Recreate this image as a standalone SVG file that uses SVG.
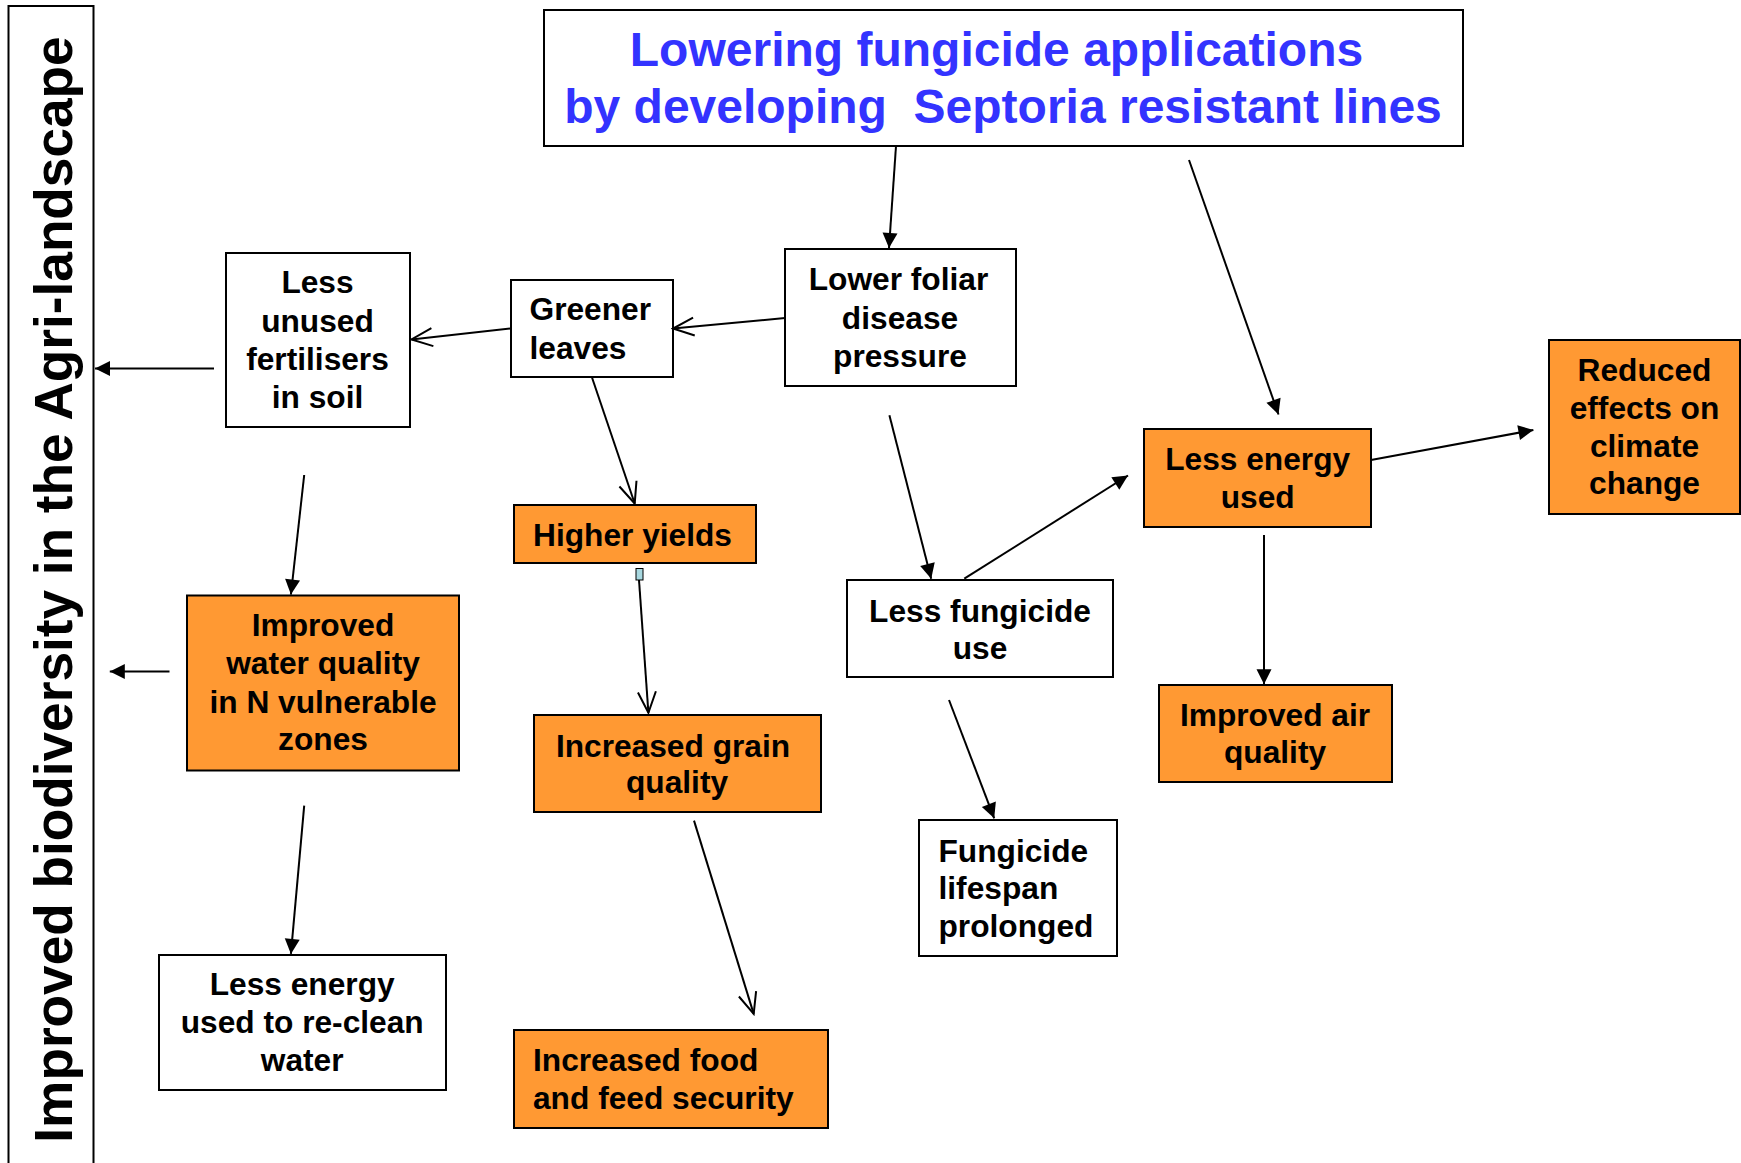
<svg xmlns="http://www.w3.org/2000/svg" width="1741" height="1163" viewBox="0 0 1741 1163">
<defs>
<style>
.bw{fill:#FFFFFF;stroke:#000000;stroke-width:2}
.bo{fill:#FF9933;stroke:#000000;stroke-width:2}
.t{font-family:"Liberation Sans",Arial,sans-serif;font-weight:bold;font-size:31.7px;fill:#000000}
.c{text-anchor:middle}
.title{font-family:"Liberation Sans",Arial,sans-serif;font-weight:bold;font-size:48px;fill:#3333FF;text-anchor:middle}
.side{font-family:"Liberation Sans",Arial,sans-serif;font-weight:bold;font-size:53.2px;fill:#000000;text-anchor:middle}
.cf{stroke:#000000;stroke-width:2;fill:none;marker-end:url(#af)}
.co{stroke:#000000;stroke-width:2;fill:none;marker-end:url(#ao)}
</style>
<marker id="af" viewBox="-16 -9 17 18" markerWidth="17" markerHeight="18" refX="0" refY="0" orient="auto" markerUnits="userSpaceOnUse">
<path d="M0,0 L-15,-7.5 L-15,7.5 Z" fill="#000000"/>
</marker>
<marker id="ao" viewBox="-24 -12 26 24" markerWidth="26" markerHeight="24" refX="0" refY="0" orient="auto" markerUnits="userSpaceOnUse">
<path d="M-21,-9 L0,0 L-21,9" fill="none" stroke="#000000" stroke-width="2"/>
</marker>
</defs>
<rect width="1741" height="1163" fill="#FFFFFF"/>

<g id="side">
<rect x="8.5" y="6" width="85" height="1170" class="bw"/>
<text class="side" transform="translate(71.5,589.5) rotate(-90)">Improved biodiversity in the Agri-landscape</text>
</g>

<g id="title">
<rect x="544" y="10" width="919" height="136" class="bw"/>
<text class="title" x="996.5" y="66">Lowering fungicide applications</text>
<text class="title" x="1003" y="123" xml:space="preserve">by developing  Septoria resistant lines</text>
</g>

<g id="lessUnused">
<rect x="226" y="253" width="184" height="174" class="bw"/>
<text class="t c" x="317.5" y="293">Less</text>
<text class="t c" x="317.5" y="331.5">unused</text>
<text class="t c" x="317.5" y="369.5">fertilisers</text>
<text class="t c" x="317.5" y="408">in soil</text>
</g>

<g id="greener">
<rect x="511" y="280" width="162" height="97" class="bw"/>
<text class="t" x="529.5" y="320">Greener</text>
<text class="t" x="529.5" y="358.5">leaves</text>
</g>

<g id="lowerFoliar">
<rect x="785" y="249" width="231" height="137" class="bw"/>
<text class="t c" x="898.5" y="290">Lower foliar</text>
<text class="t c" x="900" y="328.5">disease</text>
<text class="t c" x="900" y="366.5">pressure</text>
</g>

<g id="higherYields">
<rect x="514" y="505" width="242" height="58" class="bo"/>
<text class="t" x="533" y="545.5">Higher yields</text>
<rect x="636" y="568.5" width="7" height="11.5" fill="#A8D8E0" stroke="#000000" stroke-width="1"/>
</g>

<g id="grainQuality">
<rect x="534" y="715" width="287" height="97" class="bo"/>
<text class="t c" x="673" y="757">Increased grain</text>
<text class="t c" x="677" y="793">quality</text>
</g>

<g id="foodSecurity">
<rect x="514" y="1030" width="314" height="98" class="bo"/>
<text class="t" x="533" y="1070.5">Increased food</text>
<text class="t" x="533" y="1109">and feed security</text>
</g>

<g id="lessFungicide">
<rect x="847" y="580" width="266" height="97" class="bw"/>
<text class="t c" x="980" y="622">Less fungicide</text>
<text class="t c" x="980" y="659">use</text>
</g>

<g id="lifespan">
<rect x="919" y="820" width="198" height="136" class="bw"/>
<text class="t" x="938.5" y="861.5">Fungicide</text>
<text class="t" x="938.5" y="899">lifespan</text>
<text class="t" x="938.5" y="937">prolonged</text>
</g>

<g id="lessEnergy">
<rect x="1144" y="429" width="227" height="98" class="bo"/>
<text class="t c" x="1257.7" y="470">Less energy</text>
<text class="t c" x="1257.7" y="508.3">used</text>
</g>

<g id="reduced">
<rect x="1549" y="340" width="191" height="174" class="bo"/>
<text class="t c" x="1644.5" y="381">Reduced</text>
<text class="t c" x="1644.5" y="419">effects on</text>
<text class="t c" x="1644.5" y="456.7">climate</text>
<text class="t c" x="1644.5" y="494.3">change</text>
</g>

<g id="airQuality">
<rect x="1159" y="685" width="233" height="97" class="bo"/>
<text class="t c" x="1275" y="726">Improved air</text>
<text class="t c" x="1275" y="763.3">quality</text>
</g>

<g id="waterQuality">
<rect x="187" y="595.5" width="272" height="175" class="bo"/>
<text class="t c" x="323" y="636.4">Improved</text>
<text class="t c" x="323" y="674.2">water quality</text>
<text class="t c" x="323" y="712.8">in N vulnerable</text>
<text class="t c" x="323" y="750.1">zones</text>
</g>

<g id="reclean">
<rect x="159" y="955" width="287" height="135" class="bw"/>
<text class="t c" x="302.2" y="994.8">Less energy</text>
<text class="t c" x="302.2" y="1033.4">used to re-clean</text>
<text class="t c" x="302.2" y="1070.7">water</text>
</g>

<g id="connectors">
<line class="cf" x1="896" y1="146" x2="889" y2="248"/>
<line class="cf" x1="1189" y1="160" x2="1278.5" y2="414.5"/>
<line class="co" x1="785" y1="318" x2="673" y2="328.5"/>
<line class="co" x1="510.5" y1="328.5" x2="411.5" y2="339.5"/>
<line class="cf" x1="214" y1="368.5" x2="95" y2="368.5"/>
<line class="co" x1="592" y1="377.5" x2="634.7" y2="503.5"/>
<line class="co" x1="639" y1="580" x2="648.4" y2="712.8"/>
<line class="co" x1="694" y1="820.6" x2="753.7" y2="1013.9"/>
<line class="cf" x1="889.4" y1="415.3" x2="931.2" y2="578.7"/>
<line class="cf" x1="964.3" y1="578.7" x2="1128" y2="475.5"/>
<line class="cf" x1="949" y1="700" x2="994.2" y2="818.3"/>
<line class="cf" x1="1371" y1="460" x2="1533.4" y2="430"/>
<line class="cf" x1="1264" y1="535" x2="1264" y2="684.3"/>
<line class="cf" x1="304.2" y1="475" x2="290.9" y2="594.6"/>
<line class="cf" x1="169.5" y1="671.5" x2="109.8" y2="671.5"/>
<line class="cf" x1="304.2" y1="805.6" x2="290.9" y2="953.9"/>
</g>
</svg>
